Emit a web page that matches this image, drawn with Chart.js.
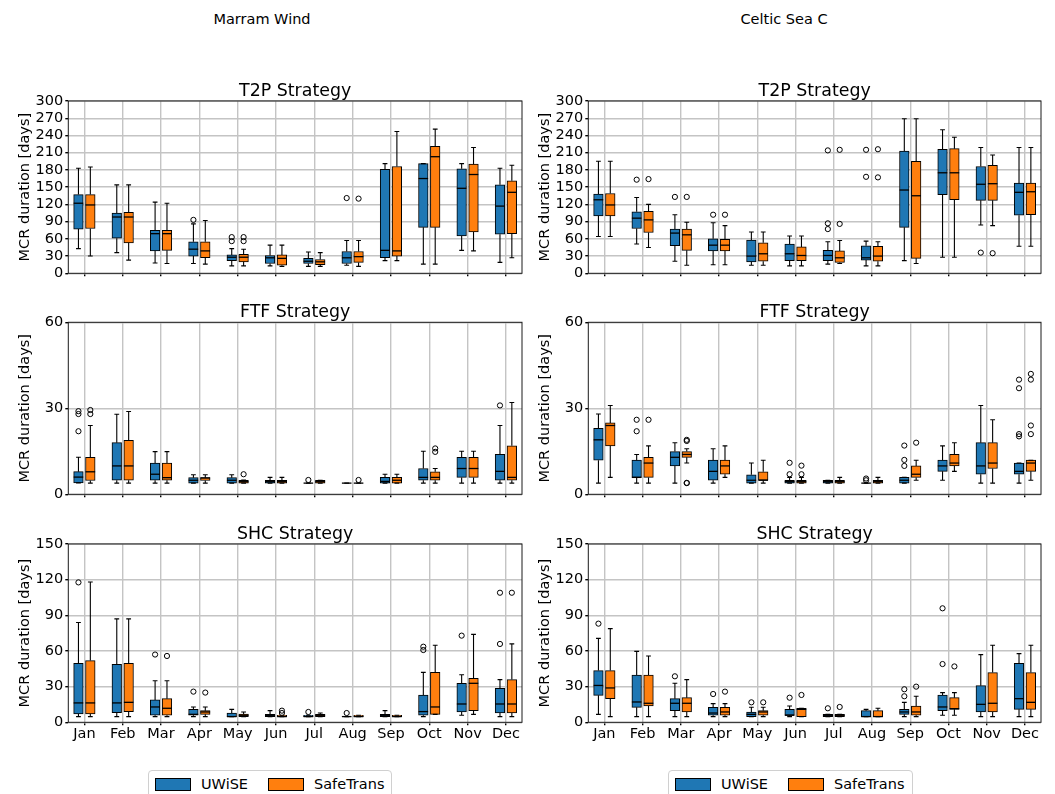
<!DOCTYPE html>
<html lang="en">
<head>
    <meta charset="UTF-8">
    <title>MCR duration per month - Marram Wind / Celtic Sea C</title>
    <script src="https://cdn.jsdelivr.net/npm/chart.js@4.4.1/dist/chart.umd.min.js"></script>
    <style>
        body {
            margin: 0;
            background: #fff;
            font-family: 'DejaVu Sans', sans-serif;
        }

        #fig {
            position: relative;
            width: 1055px;
            height: 794px;
            overflow: hidden;
        }

        #fig canvas {
            position: absolute;
        }

        .col-title {
            position: absolute;
            top: 11px;
            width: 300px;
            text-align: center;
            font-size: 14.5px;
            line-height: 17px;
            color: #000;
        }

        .legend {
            position: absolute;
            top: 770px;
            height: 32px;
            box-sizing: border-box;
            border: 1px solid #d0d0d0;
            border-radius: 4px;
            background: #fff;
            display: flex;
            align-items: flex-start;
            padding: 5px 6px 0 6px;
            font-size: 14.5px;
            line-height: 17px;
        }

        .legend .patch {
            width: 36px;
            height: 13px;
            box-sizing: border-box;
            border: 1px solid #000;
            margin-top: 2px;
            margin-right: 10px;
        }

        .legend .label {
            margin-right: 20px;
        }

        .legend .label:last-child {
            margin-right: 0;
        }
    </style>
</head>
<body>
<div id="fig">
    <div class="col-title" style="left:112px">Marram Wind</div>
    <div class="col-title" style="left:634px">Celtic Sea C</div>

    <canvas id="p00"></canvas>
    <canvas id="p01"></canvas>
    <canvas id="p10"></canvas>
    <canvas id="p11"></canvas>
    <canvas id="p20"></canvas>
    <canvas id="p21"></canvas>

    <div class="legend" style="left:148px;width:244px">
        <span class="patch" style="background:#1f77b4"></span><span class="label">UWiSE</span>
        <span class="patch" style="background:#ff7f0e"></span><span class="label">SafeTrans</span>
    </div>
    <div class="legend" style="left:668px;width:245px">
        <span class="patch" style="background:#1f77b4"></span><span class="label">UWiSE</span>
        <span class="patch" style="background:#ff7f0e"></span><span class="label">SafeTrans</span>
    </div>
</div>

<script>
    const months = ['Jan', 'Feb', 'Mar', 'Apr', 'May', 'Jun', 'Jul', 'Aug', 'Sep', 'Oct', 'Nov', 'Dec'];

    // each row: [whisker low, Q1, median, Q3, whisker high]
    // Marram Wind - T2P
    const mwT2pUwise = [[43,77,122,137,183],[36,61,98,105,154],[18,39,69,75,124],[17,30,42,55,86],[13,22,28,32,43],[13,17,27,31,49],
                        [12,17,21,26,37],[14,17,27,38,57],[22,27,40,181,191],[16,80,165,191,191],[40,65,148,182,191],[19,68,117,154,183]];
    const mwT2pSafe  = [[30,78,119,137,185],[23,53,98,106,154],[17,40,69,75,122],[16,27,39,55,92],[13,20,28,33,42],[12,14,26,32,49],
                        [12,15,20,24,36],[12,19,29,38,57],[22,30,39,186,247],[16,80,203,221,251],[39,72,172,190,219],[27,69,141,161,188]];
    const mwT2pUwiseOut = [[],[],[],[93],[63,56],[],[],[131],[],[],[],[]];
    const mwT2pSafeOut  = [[],[],[],[],[63,56],[],[],[130],[],[],[],[]];

    // Celtic Sea C - T2P
    const csT2pUwise = [[64,100,128,138,195],[51,78,96,107,132],[21,48,70,77,102],[15,39,49,60,88],[14,20,30,58,72],[13,22,34,51,65],
                        [16,22,31,40,55],[13,23,27,48,56],[22,80,145,213,269],[28,137,175,216,250],[84,127,155,186,219],[47,101,141,157,219]];
    const csT2pSafe  = [[64,100,119,139,195],[45,71,93,108,120],[14,40,67,77,89],[15,39,49,59,83],[14,21,34,53,72],[13,22,31,46,65],
                        [17,19,27,39,57],[13,21,30,47,55],[17,26,135,195,269],[28,128,175,217,237],[83,127,156,188,206],[47,102,142,157,219]];
    const csT2pUwiseOut = [[],[163],[133],[102],[],[],[214,87,77],[215,168],[],[],[36],[]];
    const csT2pSafeOut  = [[],[164],[133],[102],[],[],[215,86],[216,167],[],[],[35],[]];

    // Marram Wind - FTF
    const mwFtfUwise = [[4,4,6,7.9,12.9],[3.9,4.9,9.9,18,27.9],[3.9,4.9,7,10.9,14.9],[3.9,3.9,4.9,5.8,6.8],[3.9,3.9,4.9,5.8,6.8],[3.9,3.9,4.4,4.9,5.9],
                        [3.9,3.9,3.9,3.9,3.9],[3.9,3.9,3.9,3.9,3.9],[3.9,3.9,4.5,5.9,7],[3.9,4.9,5.9,9,15],[3.9,5.9,9,12.9,15],[3.9,4.9,8,13.9,24]];
    const mwFtfSafe  = [[3.9,4.8,7.85,12.9,24],[3.9,4.9,9.9,18.8,28.9],[3.9,4.9,5.8,10.9,14.9],[3.9,4.8,5.7,5.8,6.8],[3.9,3.9,4.4,4.9,5],[3.9,3.9,4.4,4.9,5.9],
                        [3.9,3.9,4.4,4.9,4.9],[3.9,3.9,3.9,3.9,3.9],[3.9,3.9,4.9,5.9,7],[3.9,4.9,5.9,7.85,9],[3.9,5.9,9,12.9,15],[3.9,4.9,5.9,16.9,32]];
    const mwFtfUwiseOut = [[29,28,22],[],[],[],[],[],[5],[],[],[],[],[31]];
    const mwFtfSafeOut  = [[29.4,28],[],[],[],[7],[],[],[5],[],[16,14.8],[],[]];

    // Celtic Sea C - FTF
    const csFtfUwise = [[3.9,11.9,19,23,28],[3.9,5.9,5.9,11.9,13.9],[3.9,9.9,12.9,14.9,18],[3.9,4.9,8,11.9,15.9],[3.9,3.9,4.9,6.8,10.9],[3.9,3.9,4.4,4.9,5.9],
                        [3.9,3.9,4.4,4.9,4.9],[3.9,3.9,3.9,3.9,3.9],[3.9,3.9,4.9,5.9,5.9],[4.9,8,9.9,11.9,16.9],[3.9,7,9.9,18,31],[3.9,7,8,10.9,10.9]];
    const csFtfSafe  = [[5.9,16.9,24,24.9,31],[3.9,5.9,10.9,12.9,16.9],[10.9,12.9,13.9,14.9,15.9],[5.9,7,9.9,11.9,16.9],[3.9,4.9,4.9,7.85,11.9],[3.9,3.9,4.4,4.9,5.9],
                        [3.9,3.9,4.4,4.9,5.9],[3.9,3.9,4.4,4.9,5.9],[4.9,5.9,7,9.9,11.9],[8,9.9,10.9,13.9,18],[3.9,9,10.9,18,26],[4.9,8,10.9,11.9,11.9]];
    const csFtfUwiseOut = [[],[26,22],[],[],[],[11,7],[],[5.5,4.9],[17,12,9.9],[],[],[40,37,21,20.2]];
    const csFtfSafeOut  = [[],[26],[19,18.6,4,3.9],[],[],[10,7],[],[],[18],[],[],[42,40,24,21]];

    // Marram Wind - SHC
    const mwShcUwise = [[4.8,7,16.3,49.6,84],[4.8,8.1,16.3,48.8,87],[4.8,5.9,12.9,18.8,35],[4.8,5.9,6.7,10.9,12.9],[4.8,4.8,4.8,7.8,10.9],[4.8,4.8,5.9,6.7,9.8],
                        [4.8,4.8,4.8,5.9,5.9],[4.8,4.8,4.8,4.8,4.8],[4.8,4.8,5.9,6.7,9.8],[4.8,5.9,9,23,42],[5.9,8.7,15.4,32.8,40],[4.8,7.8,15.4,28.6,35.9]];
    const mwShcSafe  = [[4.8,7,16.3,51.9,118],[4.8,9,16.8,49.6,87],[4.8,5.9,11.8,19.9,35],[4.8,6.7,8.7,9.8,12.9],[4.8,4.8,5.9,7,8.7],[4.8,4.8,4.8,5.9,5.9],
                        [4.8,4.8,5.9,6.7,7.8],[4.8,4.8,4.8,5.9,5.9],[4.8,4.8,4.8,5.9,5.9],[6.7,6.7,12.9,42,64.8],[6.7,9.8,32.8,37,74],[4.8,7.8,15.4,35.9,66]];
    const mwShcUwiseOut = [[117.7],[],[57],[25.8],[],[],[8.7],[7.8],[],[63.6,60.8],[72.9],[109,65.9]];
    const mwShcSafeOut  = [[],[],[55.8],[25],[],[9.8,7.8],[],[],[],[],[],[109]];

    // Celtic Sea C - SHC
    const csShcUwise = [[6.7,22.7,31,43.5,70.6],[4.8,12.6,17.1,39.8,59.7],[4.8,9.8,16,19.9,32.8],[4.8,5.9,7.8,12.6,15.7],[4.8,4.8,6.7,8.7,12.6],[4.8,5.9,5.9,10.9,13.7],
                        [4.8,4.8,5.9,6.7,6.7],[4.8,4.8,4.8,9.8,10.9],[4.8,6.7,8.7,10.9,16.8],[5.9,9.8,12.9,23,25],[4.8,8.7,15.1,30.8,56.9],[4.8,10.9,19.9,49.6,57.8]];
    const csShcSafe  = [[4.8,19.9,28.9,43.5,78.8],[4.8,13.7,16,39.8,55.8],[4.8,8.7,16,20.7,35.9],[4.8,5.9,8.7,12.6,15.7],[4.8,5.9,8.7,9.8,12.6],[4.8,4.8,10.9,11.8,11.8],
                        [4.8,4.8,5.9,6.7,6.7],[4.8,4.8,4.8,9.8,11.8],[4.8,5.9,8.7,13.7,21.9],[5.9,10.9,11.5,20.7,25],[4.8,8.7,16,41.8,64.8],[4.8,10.9,16.8,41.8,64.8]];
    const csShcUwiseOut = [[83],[],[38.7],[23.8],[16.8],[20.7],[11.8],[],[27.8,21.9],[95.9,49],[],[]];
    const csShcSafeOut  = [[],[],[],[25.8],[16.8],[23],[12.9],[],[30],[47],[],[]];

    const BLUE = '#1f77b4';
    const ORANGE = '#ff7f0e';
    const GRID = '#c4c4c4';
    const FONT = "'DejaVu Sans', sans-serif";

    // layout of the figure (pixels)
    const ROWS = [{top: 101, bottom: 279.3}, {top: 322.3, bottom: 500.7}, {top: 544, bottom: 722.3}];
    const COLS = [{canvasLeft: 0, left: 68.3, right: 522}, {canvasLeft: 520, left: 588.3, right: 1041}];
    const CANVAS_W = 530;
    const TITLE_H = 18.8;
    const X_MIN = 0.58, X_MAX = 12.42;
    const SHIFT = 0.155;     // box offset from month tick, in x units
    const BOX_PX = 9.6;

    const panels = [
        {id: 'p00', row: 0, col: 0, title: 'T2P Strategy', yMax: 300, yStep: 30, u: mwT2pUwise, uo: mwT2pUwiseOut, s: mwT2pSafe, so: mwT2pSafeOut},
        {id: 'p01', row: 0, col: 1, title: 'T2P Strategy', yMax: 300, yStep: 30, u: csT2pUwise, uo: csT2pUwiseOut, s: csT2pSafe, so: csT2pSafeOut},
        {id: 'p10', row: 1, col: 0, title: 'FTF Strategy', yMax: 60, yStep: 30, u: mwFtfUwise, uo: mwFtfUwiseOut, s: mwFtfSafe, so: mwFtfSafeOut},
        {id: 'p11', row: 1, col: 1, title: 'FTF Strategy', yMax: 60, yStep: 30, u: csFtfUwise, uo: csFtfUwiseOut, s: csFtfSafe, so: csFtfSafeOut},
        {id: 'p20', row: 2, col: 0, title: 'SHC Strategy', yMax: 150, yStep: 30, u: mwShcUwise, uo: mwShcUwiseOut, s: mwShcSafe, so: mwShcSafeOut},
        {id: 'p21', row: 2, col: 1, title: 'SHC Strategy', yMax: 150, yStep: 30, u: csShcUwise, uo: csShcUwiseOut, s: csShcSafe, so: csShcSafeOut}
    ];

    function boxData(stats, shift) {
        return stats.map((s, i) => ({x: i + 1 + shift, y: [s[1], s[3]]}));
    }

    function outlierData(outs, shift) {
        const pts = [];
        outs.forEach((list, i) => list.forEach(v => pts.push({x: i + 1 + shift, y: v})));
        return pts;
    }

    // whiskers, caps, medians and the axes frame
    const boxWhiskerPlugin = {
        id: 'boxWhisker',
        afterDatasetsDraw(chart) {
            const ctx = chart.ctx;
            const yScale = chart.scales.y;
            chart.data.datasets.forEach((ds, di) => {
                if (!ds.stats) return;
                const meta = chart.getDatasetMeta(di);
                ctx.save();
                ctx.strokeStyle = '#000';
                meta.data.forEach((bar, i) => {
                    const s = ds.stats[i];
                    const {x, width} = bar.getProps(['x', 'width'], true);
                    const cap = width / 4;
                    const py = s.map(v => yScale.getPixelForValue(v));
                    ctx.lineWidth = 1.1;
                    ctx.beginPath();
                    ctx.moveTo(x, py[1]); ctx.lineTo(x, py[0]);
                    ctx.moveTo(x, py[3]); ctx.lineTo(x, py[4]);
                    ctx.moveTo(x - cap, py[0]); ctx.lineTo(x + cap, py[0]);
                    ctx.moveTo(x - cap, py[4]); ctx.lineTo(x + cap, py[4]);
                    ctx.stroke();
                    ctx.lineWidth = 1.3;
                    ctx.beginPath();
                    ctx.moveTo(x - width / 2, py[2]); ctx.lineTo(x + width / 2, py[2]);
                    ctx.stroke();
                });
                ctx.restore();
            });
        },
        afterDraw(chart) {
            const a = chart.chartArea;
            const ctx = chart.ctx;
            ctx.save();
            ctx.strokeStyle = '#1a1a1a';
            ctx.lineWidth = 1;
            ctx.strokeRect(a.left, a.top, a.right - a.left, a.bottom - a.top);
            ctx.restore();
        }
    };

    panels.forEach(p => {
        const row = ROWS[p.row];
        const col = COLS[p.col];
        const xAxisH = p.row === 2 ? 22 : 4;

        const canvasTop = Math.floor(row.top - TITLE_H);
        const padTop = row.top - TITLE_H - canvasTop;
        const canvasH = Math.ceil(row.bottom + xAxisH - canvasTop);
        const padBottom = canvasTop + canvasH - (row.bottom + xAxisH);

        const canvas = document.getElementById(p.id);
        canvas.width = CANVAS_W;
        canvas.height = canvasH;
        canvas.style.left = col.canvasLeft + 'px';
        canvas.style.top = canvasTop + 'px';
        canvas.style.width = CANVAS_W + 'px';
        canvas.style.height = canvasH + 'px';

        const boxStyle = {
            type: 'bar',
            borderColor: '#000',
            borderWidth: 1,
            borderSkipped: false,
            barThickness: BOX_PX,
            grouped: false
        };
        const flierStyle = {
            type: 'scatter',
            pointStyle: 'circle',
            pointRadius: 2.6,
            pointBorderWidth: 1,
            pointBorderColor: '#000',
            pointBackgroundColor: 'rgba(0,0,0,0)'
        };

        new Chart(canvas, {
            type: 'bar',
            data: {
                datasets: [
                    Object.assign({label: 'UWiSE', data: boxData(p.u, -SHIFT), stats: p.u, backgroundColor: BLUE}, boxStyle),
                    Object.assign({label: 'SafeTrans', data: boxData(p.s, SHIFT), stats: p.s, backgroundColor: ORANGE}, boxStyle),
                    Object.assign({label: 'UWiSE outliers', data: outlierData(p.uo, -SHIFT)}, flierStyle),
                    Object.assign({label: 'SafeTrans outliers', data: outlierData(p.so, SHIFT)}, flierStyle)
                ]
            },
            options: {
                responsive: false,
                animation: false,
                events: [],
                layout: {
                    padding: {top: padTop, bottom: padBottom, left: 0, right: col.canvasLeft + CANVAS_W - col.right}
                },
                plugins: {
                    legend: {display: false},
                    tooltip: {enabled: false},
                    title: {
                        display: true,
                        text: p.title,
                        fullSize: false,
                        color: '#000',
                        font: {family: FONT, size: 17.4, weight: 'normal', lineHeight: 1.08},
                        padding: {top: 0, bottom: 0}
                    }
                },
                scales: {
                    x: {
                        type: 'linear',
                        min: X_MIN,
                        max: X_MAX,
                        offset: false,
                        afterBuildTicks(scale) {
                            scale.ticks = months.map((m, i) => ({value: i + 1}));
                        },
                        afterFit(scale) {
                            scale.height = xAxisH;
                        },
                        ticks: {
                            display: p.row === 2,
                            callback: v => months[v - 1],
                            color: '#000',
                            font: {family: FONT, size: 14.5},
                            padding: 0,
                            maxRotation: 0,
                            autoSkip: false
                        },
                        grid: {color: GRID, lineWidth: 1.4, tickColor: '#000', tickLength: 3, offset: false},
                        border: {display: false}
                    },
                    y: {
                        min: 0,
                        max: p.yMax,
                        afterFit(scale) {
                            scale.width = col.left - col.canvasLeft;
                        },
                        ticks: {
                            stepSize: p.yStep,
                            autoSkip: false,
                            color: '#000',
                            font: {family: FONT, size: 14.5},
                            padding: 2
                        },
                        grid: {color: GRID, lineWidth: 1.4, tickColor: '#000', tickLength: 3},
                        border: {display: false},
                        title: {
                            display: true,
                            text: 'MCR duration [days]',
                            color: '#000',
                            font: {family: FONT, size: 14.5},
                            padding: {top: 16.3, bottom: 0}
                        }
                    }
                }
            },
            plugins: [boxWhiskerPlugin]
        });
    });
</script>
</body>
</html>
